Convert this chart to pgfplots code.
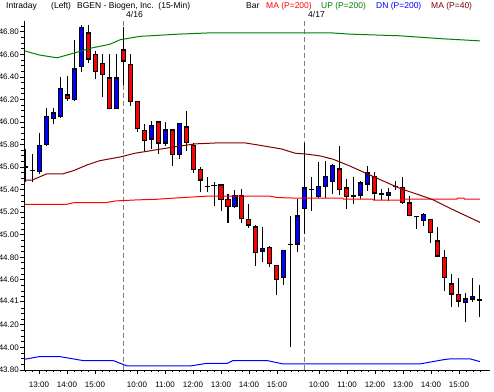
\documentclass[border=0pt]{standalone}
\usepackage{pgfplots}
\pgfplotsset{compat=1.18}
\usepackage{pgfplotstable}
\usepackage{fontspec}
\setmainfont{Liberation Sans}
\definecolor{dkred}{RGB}{128,0,0}
\definecolor{upgreen}{RGB}{0,128,0}
\definecolor{dnblue}{RGB}{0,0,255}
\definecolor{mared}{RGB}{255,0,0}
\definecolor{cblue}{RGB}{0,0,255}
\definecolor{cred}{RGB}{255,0,0}

\pgfplotstableread{
i o h l c
0 45.60 45.76 45.47 45.60
1 45.57 45.72 45.47 45.57
2 45.56 45.90 45.54 45.79
3 45.80 46.12 45.785 46.05
4 46.03 46.12 45.98 46.08
5 46.05 46.40 46.04 46.30
6 46.24 46.41 46.19 46.21
7 46.20 46.73 46.19 46.47
8 46.49 46.86 46.44 46.84
9 46.79 46.86 46.52 46.56
10 46.60 46.63 46.38 46.45
11 46.52 46.60 46.22 46.42
12 46.39 46.60 46.12 46.12
13 46.12 46.60 46.12 46.39
14 46.64 46.845 46.33 46.54
15 46.51 46.60 46.14 46.18
16 46.18 46.18 45.91 45.94
17 45.925 45.985 45.73 45.836
18 45.85 46.01 45.76 45.97
19 46.00 46.00 45.72 45.815
20 45.815 46.00 45.79 45.93
21 45.93 45.93 45.61 45.71
22 45.71 45.99 45.67 45.985
23 45.955 46.095 45.74 45.82
24 45.79 45.81 45.55 45.58
25 45.58 45.60 45.375 45.485
26 45.425 45.515 45.375 45.425
27 45.434 45.464 45.255 45.434
28 45.44 45.44 45.21 45.315
29 45.31 45.36 45.107 45.25
30 45.25 45.395 45.24 45.345
31 45.345 45.405 45.10 45.145
32 45.137 45.27 45.062 45.086
33 45.068 45.086 44.726 44.84
34 44.854 45.068 44.76 44.878
35 44.884 44.898 44.714 44.744
36 44.726 44.726 44.467 44.60
37 44.62 44.86 44.556 44.86
38 44.913 45.166 44.00 44.913
39 44.919 45.315 44.848 45.166
40 45.232 45.815 45.005 45.413
41 45.40 45.51 45.21 45.40
42 45.339 45.643 45.324 45.425
43 45.428 45.651 45.324 45.515
44 45.473 45.628 45.36 45.613
45 45.583 45.785 45.354 45.404
46 45.413 45.494 45.232 45.339
47 45.345 45.515 45.27 45.345
48 45.351 45.479 45.315 45.458
49 45.449 45.613 45.39 45.547
50 45.515 45.553 45.309 45.369
51 45.36 45.404 45.309 45.36
52 45.351 45.413 45.30 45.375
53 45.428 45.473 45.398 45.428
54 45.42 45.515 45.27 45.285
55 45.28 45.345 45.166 45.172
56 45.16 45.166 45.053 45.16
57 45.128 45.196 45.077 45.181
58 45.137 45.137 44.928 45.018
59 44.943 45.068 44.80 44.81
60 44.80 44.86 44.497 44.622
61 44.562 44.65 44.357 44.473
62 44.467 44.616 44.357 44.413
63 44.401 44.482 44.223 44.431
64 44.428 44.616 44.401 44.452
65 44.42 44.55 44.268 44.42
}\candles

\begin{document}
\begin{tikzpicture}
\useasboundingbox (-24pt,-21pt) rectangle (470pt,370pt);
\begin{axis}[
  at={(0pt,0pt)}, anchor=south west,
  scale only axis, width=466pt, height=349pt,
  xmin=-0.143, xmax=66.43, ymin=43.8, ymax=46.897,
  axis x line*=bottom, axis y line*=left,
  axis line style={black, line width=0.8pt},
  tick align=outside, major tick length=4pt, minor tick length=2.5pt,
  every tick/.style={black, line width=0.8pt},
  xtick={2,6,10,16,20,24,28,32,36,42,46,50,54,58,62},
  xticklabels={13:00,14:00,15:00,10:00,11:00,12:00,13:00,14:00,15:00,10:00,11:00,12:00,13:00,14:00,15:00},
  minor xtick={0,...,65},
  ytick={43.8,44.0,44.2,44.41,44.6,44.8,45.0,45.2,45.4,45.6,45.8,46.0,46.2,46.4,46.6,46.8},
  minor ytick={43.85,43.9,43.95,44.05,44.1,44.15,44.25,44.3,44.35,44.45,44.5,44.55,44.65,44.7,44.75,44.85,44.9,44.95,45.05,45.1,45.15,45.25,45.3,45.35,45.45,45.5,45.55,45.65,45.7,45.75,45.85,45.9,45.95,46.05,46.1,46.15,46.25,46.3,46.35,46.45,46.5,46.55,46.65,46.7,46.75,46.85},
  /pgf/number format/assume math mode=true,
  /pgf/number format/fixed,
  /pgf/number format/fixed zerofill,
  /pgf/number format/precision=2,
  ticklabel style={font=\fontsize{8}{9}\selectfont},
  yticklabel style={inner sep=1pt},
  xticklabel style={yshift=-4pt},
  clip=true,
  candle/.style={only marks, mark size=0pt, mark options={draw=none, fill=none}, forget plot},
]
% day separators
\addplot[gray, line width=1pt, dash pattern=on 5pt off 3pt, forget plot] coordinates {(14,43.8) (14,46.9)};
\addplot[gray, line width=1pt, dash pattern=on 5pt off 3pt, forget plot] coordinates {(40,43.8) (40,46.9)};
% wicks
\addplot[candle,
  error bars/.cd, y dir=plus, y explicit, error mark=none,
  error bar style={black, line width=1pt}]
  table[x=i, y=l, y error expr=\thisrow{h}-\thisrow{l}] {\candles};
% body outlines
\addplot[candle,
  error bars/.cd, y dir=plus, y explicit, error mark=none,
  error bar style={black, line width=5pt}]
  table[x=i, y expr={min(\thisrow{o},\thisrow{c})-0.006}, y error expr={abs(\thisrow{c}-\thisrow{o})+0.012}] {\candles};
% up bodies
\addplot[candle,
  error bars/.cd, y dir=plus, y explicit, error mark=none,
  error bar style={cblue, line width=3pt}]
  table[x=i, y expr={\thisrow{c}>\thisrow{o}+0.013 ? \thisrow{o}+0.006 : 0}, y error expr={\thisrow{c}>\thisrow{o}+0.013 ? \thisrow{c}-\thisrow{o}-0.012 : 0}] {\candles};
% down bodies
\addplot[candle,
  error bars/.cd, y dir=plus, y explicit, error mark=none,
  error bar style={cred, line width=3pt}]
  table[x=i, y expr={\thisrow{o}>\thisrow{c}+0.013 ? \thisrow{c}+0.006 : 0}, y error expr={\thisrow{o}>\thisrow{c}+0.013 ? \thisrow{o}-\thisrow{c}-0.012 : 0}] {\candles};
% MA 200
\addplot[mared, line width=1pt, mark=none] coordinates {(0,45.27) (6,45.27) (7,45.285) (11.5,45.285) (13,45.30) (16,45.309) (19,45.315) (21,45.324) (26,45.342) (35,45.342) (36,45.33) (39,45.324) (45.4,45.324) (45.5,45.315) (49.7,45.315) (49.8,45.306) (53.6,45.306) (53.7,45.315) (61.7,45.315) (61.8,45.324) (62.7,45.324) (62.8,45.315) (65,45.315)};
% UP 200
\addplot[upgreen, line width=1pt, mark=none] coordinates {(0,46.63) (2.1,46.594) (4.6,46.57) (6.9,46.61) (9.3,46.654) (12.1,46.69) (13.6,46.73) (16.4,46.76) (22,46.78) (26,46.79) (44,46.79) (46.4,46.78) (53.6,46.765) (59.3,46.74) (65,46.72)};
% DN 200
\addplot[dnblue, line width=1pt, mark=none] coordinates {(0,43.895) (2,43.918) (5,43.918) (8.3,43.883) (12.6,43.883) (14.6,43.835) (23.6,43.835) (26,43.859) (28.9,43.859) (29.7,43.883) (34.6,43.883) (36.9,43.853) (56.4,43.853) (59.7,43.89) (60.7,43.898) (63.6,43.898) (65,43.874)};
% MA 40
\addplot[dkred, line width=1pt, mark=none] coordinates {(0,45.484) (1,45.484) (3.1,45.54) (5.4,45.54) (7,45.57) (8.9,45.62) (10.7,45.657) (13.6,45.69) (15.7,45.723) (18.1,45.747) (21.4,45.78) (24.3,45.806) (27.6,45.815) (31.4,45.815) (33.9,45.79) (36.7,45.76) (38.6,45.723) (40,45.717) (42.1,45.70) (44,45.67) (46.4,45.61) (48.9,45.54) (51.1,45.479) (53.6,45.41) (56,45.36) (58.3,45.31) (60.7,45.235) (63.1,45.165) (65,45.11)};
\end{axis}
\begin{scope}[every node/.style={font=\fontsize{8.5}{10}\selectfont, inner sep=0pt, anchor=base west}]
\node at (-18pt,361.5pt) {Intraday};
\node at (27pt,361.5pt) {(Left)};
\node at (53pt,361.5pt) {BGEN - Biogen, Inc.\ \ (15-Min)};
\node at (222pt,361.5pt) {Bar};
\node[text=mared] at (242pt,361.5pt) {MA (P=200)};
\node[text=upgreen] at (297pt,361.5pt) {UP (P=200)};
\node[text=dnblue] at (352pt,361.5pt) {DN (P=200)};
\node[text=dkred] at (407pt,361.5pt) {MA (P=40)};
\node at (102pt,352pt) {4/16};
\node at (284pt,352pt) {4/17};
\end{scope}
\end{tikzpicture}
\end{document}
